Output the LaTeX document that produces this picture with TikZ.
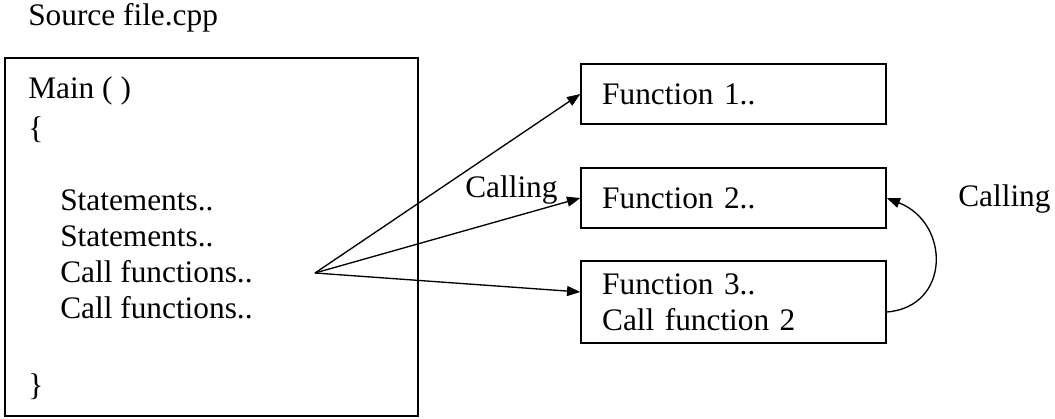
\documentclass[tikz,border=0pt]{standalone}
\usepackage{fontspec}
\setmainfont{Liberation Serif}
\usetikzlibrary{positioning,arrows.meta,calc}
\tikzset{
  srcbox/.style={draw,line width=1pt,inner sep=0pt},
  fnbox/.style={draw,line width=1pt,minimum width=228.75pt,minimum height=45pt,
    text width=197pt,align=left,inner xsep=15.75pt,inner ysep=0pt},
  txt/.style={anchor=base west,inner sep=0pt},
  callarr/.style={-{Triangle[length=10pt,width=7.5pt]},line width=1pt},
}
\begin{document}
\begin{tikzpicture}[x=0.75pt,y=-0.75pt,font=\fontsize{23.5}{27}\selectfont]
  \useasboundingbox (0,0) rectangle (1055,418);
  \node[txt] (title) at (28,25) {Source file.cpp};
  % main program box
  \node[srcbox,minimum width=309.75pt,minimum height=268.5pt] (mainbox) at (211.5,237) {};
  \node[txt] (m1) at (28,98) {Main ( )};
  \node[txt] (m2) at (28,138) {\{};
  \node[txt] (m3) at (60,210) {Statements..};
  \node[txt] (m4) at (60,246) {Statements..};
  \node[txt] (m5) at (60,282) {Call functions..};
  \node[txt] (m6) at (60,318) {Call functions..};
  \node[txt] (m7) at (28,395) {\}};
  % functions
  \node[fnbox] (f1) at (733.5,94) {Function 1..};
  \node[fnbox] (f2) at (733.5,198) {Function 2..};
  \node[fnbox,minimum height=61.5pt] (f3) at (733.5,302) {Function 3..\\Call function 2};
  % calls
  \coordinate (src) at (315,273);
  \draw[callarr] (src) -- (f1.west);
  \draw[callarr] (src) -- (f2.west);
  \draw[callarr] (src) -- ($(f3.west)+(0,-10)$);
  \node[txt] (lbl1) at (465,197) {Calling};
  \draw[callarr] ($(f3.east)+(0,10)$) .. controls +(64,-5) and +(64,25) .. (f2.east);
  \node[txt] (lbl2) at (958,206) {Calling};
\end{tikzpicture}
\end{document}
